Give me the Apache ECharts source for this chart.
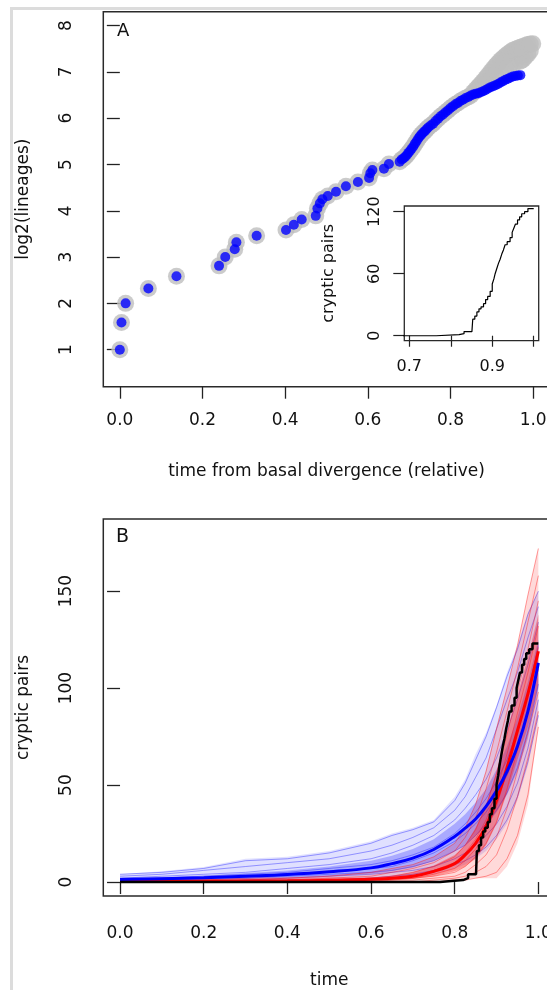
<!DOCTYPE html>
<html><head><meta charset="utf-8">
<script src="https://cdn.jsdelivr.net/npm/echarts@6/dist/echarts.min.js"></script>
<style>html,body{margin:0;padding:0;background:#fff;overflow:hidden}#c{width:600px;height:990px}</style>
</head><body><div id="c"></div>
<script>
// ---------- Panel A : lineage-through-time points ----------
const blueTime = [0.000,0.004,0.014,0.069,0.137,0.240,0.255,0.278,0.282,0.331,0.402,0.421,0.440,0.474,0.478,0.484,0.490,0.503,0.523,0.547,0.576,0.603,0.606,0.611,0.639,0.651,0.677,
0.682,0.686,0.690,0.694,0.698,0.702,0.706,0.710,0.714,0.718,0.722,0.726,0.730,0.734,0.738,0.742,0.746,
0.752,0.758,0.764,0.770,0.776,0.782,0.788,0.794,0.800,0.806,0.812,0.818,0.824,0.830,0.836,0.843,0.849,0.855,0.861,0.867,0.873,0.879,0.885,0.891,0.897,0.903,0.909,0.915,0.921,0.927,0.933,0.939,0.945,0.951,0.957,0.963,0.969];
const blueLog2 = [1.00,1.585,2.00,2.32,2.585,2.81,3.00,3.17,3.32,3.46,3.585,3.70,3.81,3.89,4.05,4.16,4.25,4.32,4.41,4.53,4.62,4.71,4.81,4.88,4.91,5.01,5.06,
5.11,5.13,5.16,5.20,5.25,5.29,5.34,5.39,5.45,5.50,5.56,5.61,5.65,5.69,5.72,5.76,5.80,
5.84,5.88,5.94,5.99,6.04,6.08,6.13,6.17,6.22,6.26,6.30,6.33,6.37,6.40,6.43,6.46,6.49,6.51,6.53,6.54,6.56,6.58,6.61,6.64,6.67,6.69,6.71,6.74,6.77,6.80,6.83,6.85,6.88,6.90,6.91,6.92,6.93];
// gray cloud (trees incl. cryptic lineages): shares blue early part, then spreads upward
const grayShareUntil = 0.85;
const grayUpperTime = [0.855,0.861,0.867,0.873,0.879,0.885,0.891,0.897,0.903,0.909,0.915,0.921,0.927,0.933,0.939,0.945,0.951,0.957,0.963,0.969,0.975,0.981,0.987,0.993,0.999];
const grayUpperLog2 = [6.56,6.62,6.68,6.74,6.80,6.86,6.93,7.00,7.07,7.13,7.19,7.25,7.30,7.35,7.39,7.43,7.47,7.49,7.51,7.53,7.55,7.57,7.59,7.60,7.61];
const grayMidTime = [0.861,0.873,0.885,0.897,0.909,0.921,0.933,0.945,0.957,0.969,0.975,0.981,0.987,0.993];
const grayMidLog2 = [6.58,6.65,6.74,6.84,6.92,7.01,7.09,7.16,7.20,7.23,7.26,7.32,7.38,7.45];
const aTicksX = [0,0.2,0.4,0.6,0.8,1.0];
const aTicksY = [1,2,3,4,5,6,7,8];

// ---------- observed cryptic pairs (inset + panel B black line) ----------
const obsTime  = [0,0.765,0.82,0.832,0.851,0.853,0.858,0.863,0.868,0.873,0.879,0.884,0.889,0.895,0.900,0.904,0.907,0.911,0.915,0.919,0.923,0.927,0.931,0.936,0.943,0.948,0.952,0.956,0.961,0.966,0.971,0.978,0.986,1.0];
const obsPairs = [0,1,2,4,5,16,19,23,26,28,31,35,38,43,50,55,60,65,70,74,79,83,88,91,95,100,104,108,112,115,118,120,123,123];
const insetTicksX = [0.7,0.8,0.9,1.0];
const insetLabelsX = [0.7,0.9];
const insetTicksY = [0,60,120];

// ---------- Panel B : simulations ----------
const simTime  = [0,0.1,0.2,0.3,0.4,0.5,0.6,0.65,0.7,0.75,0.8,0.825,0.85,0.875,0.9,0.925,0.95,0.975,1.0];
const blueMean = [1.3,1.7,2.2,3.0,3.9,5.3,7.3,9.5,12.3,16.8,23.5,27.8,32.5,39,47,57,70,88,113];
const redMean  = [0.3,0.35,0.4,0.5,0.6,0.9,1.4,2.0,3.0,5.5,9.5,14,20,29,42,59,78,97,119];
const blueHigh = [4,5.6,7.7,12,13,16,21,25,28,32,44,53,66,77,91,108,122,139,150];
const blueLow  = [0,0,0,0.5,0.5,1,1.5,2,3,4,7,9,12,16,22,30,42,60,85];
const blueQ3   = [2,2.6,3.4,4.6,6,8,11,13.5,17,22,30,35,41,48,58,70,85,103,125];
const blueQ1   = [0.5,0.8,1.1,1.6,2.2,3,4.3,5.5,7.5,11,16,19,24,29,36,45,57,74,100];
const redHigh  = [1,1,1.5,2,2.5,3.5,5,7,9,13,20,28,40,58,80,100,122,148,172];
const redLow   = [0,0,0,0,0,0,0,0,0,0.5,1,1.5,2,2,2,8,20,40,80];
const redQ3    = [0.5,0.6,0.7,0.9,1.1,1.6,2.4,3.3,5,8.5,14,19,28,40,57,77,96,116,138];
const redQ1    = [0,0.1,0.1,0.2,0.2,0.4,0.7,1,1.6,3,5.5,8,12,19,30,46,63,80,102];
const blueSims = [
 [4,5,7,11,12,15,20,24,27,31,42,51,63,75,90,106,120,138,150],
 [3,4,6,8,10,12,16,19,23,28,37,44,54,64,79,94,108,126,142],
 [2,3,4,5,7,9,12,15,19,24,32,38,45,53,64,78,94,112,134],
 [2,2,3,4,5,7,9,11,14,18,25,30,36,43,52,63,78,97,122],
 [1,2,2,3,4,5,7,8,11,15,21,25,30,36,44,55,69,88,112],
 [1,1,2,2,3,4,5,6,8,11,16,19,24,30,37,46,59,78,102],
 [0,1,1,1,2,3,4,5,6,8,12,15,19,24,30,39,51,69,94],
 [0,0,0,1,1,1,2,3,4,6,9,11,14,18,24,32,44,62,86]
];
const redSims = [
 [1,1,1,2,2,3,5,7,9,13,20,28,40,57,79,100,122,148,172],
 [1,1,1,1,2,2,3,5,7,10,16,23,33,48,67,88,110,134,158],
 [0,0,1,1,1,2,2,3,5,8,13,19,27,39,56,76,98,120,145],
 [0,0,0,1,1,1,2,2,3,6,10,15,22,32,47,66,87,108,132],
 [0,0,0,0,1,1,1,2,2,4,7,11,17,26,39,57,77,98,121],
 [0,0,0,0,0,1,1,1,2,3,5,8,13,20,31,48,68,88,110],
 [0,0,0,0,0,0,0,1,1,2,3,5,9,14,23,38,57,77,98],
 [0,0,0,0,0,0,0,0,0,1,2,3,5,8,14,27,44,64,88],
 [0,0,0,0,0,0,0,0,0,0,1,1,2,3,5,12,24,45,80]
];
const bTicksX = [0,0.2,0.4,0.6,0.8,1.0];
const bTicksY = [0,50,100,150];

// ---------- build ----------
const FONT = 'DejaVu Sans';
const INK = '#111';
const zip = (a, b) => a.map((v, i) => [v, b[i]]);

const bluePts = zip(blueTime, blueLog2);
const grayPts = bluePts.filter(p => p[0] <= grayShareUntil)
  .concat(zip(grayMidTime, grayMidLog2), zip(grayUpperTime, grayUpperLog2));

function xAxisCfg(grid, min, max, ticks, labels, opts) {
  return Object.assign({
    gridIndex: grid, type: 'value', min: min, max: max,
    axisLine: {show: false}, splitLine: {show: false},
    axisTick: {show: true, inside: false, length: 12, customValues: ticks, lineStyle: {color: '#222', width: 1.3}},
    axisLabel: {customValues: labels, formatter: v => v.toFixed(1), fontSize: 17, fontFamily: FONT, color: INK, margin: 25},
    nameLocation: 'middle', nameTextStyle: {fontSize: 17, fontFamily: FONT, color: INK}
  }, opts);
}
function yAxisCfg(grid, min, max, ticks, opts) {
  return Object.assign({
    gridIndex: grid, type: 'value', min: min, max: max,
    axisLine: {show: false}, splitLine: {show: false},
    axisTick: {show: true, inside: false, length: 13, customValues: ticks, lineStyle: {color: '#222', width: 1.3}},
    axisLabel: {customValues: ticks, rotate: 90, fontSize: 17, fontFamily: FONT, color: INK, margin: 28},
    nameLocation: 'middle', nameRotate: 90, nameTextStyle: {fontSize: 17, fontFamily: FONT, color: INK}
  }, opts);
}
function band(low, high, color, z) {
  return {
    type: 'custom', xAxisIndex: 2, yAxisIndex: 2, data: [0], silent: true, z: z,
    renderItem: (params, api) => {
      const pts = [];
      for (let i = 0; i < simTime.length; i++) pts.push(api.coord([simTime[i], high[i]]));
      for (let i = simTime.length - 1; i >= 0; i--) pts.push(api.coord([simTime[i], low[i]]));
      return {type: 'polygon', shape: {points: pts}, style: {fill: color}};
    }
  };
}
function simLine(vals, color, z) {
  return {type: 'line', xAxisIndex: 2, yAxisIndex: 2, data: zip(simTime, vals), symbol: 'none', silent: true, z: z,
    lineStyle: {color: color, width: 1}};
}

const gridStyle = {show: true, borderColor: '#2a2a2a', borderWidth: 1.5, backgroundColor: 'transparent'};

const series = [
  {type: 'scatter', xAxisIndex: 0, yAxisIndex: 0, data: grayPts, symbolSize: 17, itemStyle: {color: '#bebebe'}, z: 2, silent: true},
  {type: 'scatter', xAxisIndex: 0, yAxisIndex: 0, data: bluePts, symbolSize: 10, itemStyle: {color: '#0000ff'}, z: 3, silent: true},
  {type: 'line', xAxisIndex: 1, yAxisIndex: 1, data: zip(obsTime, obsPairs), step: 'end', symbol: 'none', lineStyle: {color: '#000', width: 1.2}, z: 3, silent: true},
  band(blueLow, blueHigh, 'rgba(0,0,255,0.12)', 1),
  band(blueQ1, blueQ3, 'rgba(0,0,255,0.24)', 1)
];
blueSims.forEach(s => series.push(simLine(s, 'rgba(30,30,255,0.42)', 2)));
series.push(band(redLow, redHigh, 'rgba(255,0,0,0.15)', 3));
series.push(band(redQ1, redQ3, 'rgba(255,0,0,0.32)', 3));
redSims.forEach(s => series.push(simLine(s, 'rgba(255,20,20,0.42)', 4)));
series.push({type: 'line', xAxisIndex: 2, yAxisIndex: 2, data: zip(simTime, redMean), smooth: 0.4, symbol: 'none', lineStyle: {color: '#ff0000', width: 3}, z: 5, silent: true});
series.push({type: 'line', xAxisIndex: 2, yAxisIndex: 2, data: zip(simTime, blueMean), smooth: 0.4, symbol: 'none', lineStyle: {color: '#0000ff', width: 3}, z: 6, silent: true});
series.push({type: 'line', xAxisIndex: 2, yAxisIndex: 2, data: zip(obsTime, obsPairs), step: 'end', symbol: 'none', lineStyle: {color: '#000', width: 2.5}, z: 7, silent: true});

const option = {
  animation: false,
  backgroundColor: '#fff',
  textStyle: {fontFamily: FONT},
  grid: [
    Object.assign({left: 103.3, top: 11.7, width: 446.4, height: 375}, gridStyle),
    Object.assign({left: 404.3, top: 206, width: 134.4, height: 134.7}, gridStyle, {borderWidth: 1.3}),
    Object.assign({left: 103.3, top: 519, width: 451.8, height: 379.3}, gridStyle)
  ],
  xAxis: [
    xAxisCfg(0, -0.04, 1.04, aTicksX, aTicksX, {name: 'time from basal divergence (relative)', nameGap: 76}),
    xAxisCfg(1, 0.688, 1.012, insetTicksX, insetLabelsX, {axisTick: {show: true, length: 11, customValues: insetTicksX, lineStyle: {color: '#222', width: 1.2}},
      axisLabel: {customValues: insetLabelsX, formatter: v => v.toFixed(1), fontSize: 16, fontFamily: FONT, color: INK, margin: 18}}),
    xAxisCfg(2, -0.04, 1.04, bTicksX, bTicksX, {name: 'time', nameGap: 76, axisLabel: {customValues: bTicksX, formatter: v => v.toFixed(1), fontSize: 17, fontFamily: FONT, color: INK, margin: 29}})
  ],
  yAxis: [
    yAxisCfg(0, 0.2, 8.3, aTicksY, {name: 'log2(lineages)', nameGap: 71}),
    yAxisCfg(1, -4.8, 125.5, insetTicksY, {name: 'cryptic pairs', nameGap: 67, nameTextStyle: {fontSize: 16, fontFamily: FONT, color: INK},
      axisTick: {show: true, length: 11, customValues: insetTicksY, lineStyle: {color: '#222', width: 1.2}},
      axisLabel: {customValues: insetTicksY, rotate: 90, fontSize: 16, fontFamily: FONT, color: INK, margin: 21}}),
    yAxisCfg(2, -7.2, 187.2, bTicksY, {name: 'cryptic pairs', nameGap: 71})
  ],
  graphic: [
    {type: 'line', shape: {x1: 11.5, y1: 8.5, x2: 11.5, y2: 990}, style: {stroke: '#dcdcdc', lineWidth: 3}, silent: true},
    {type: 'line', shape: {x1: 10, y1: 8.5, x2: 600, y2: 8.5}, style: {stroke: '#dcdcdc', lineWidth: 3}, silent: true},
    {type: 'text', left: 117, top: 22, style: {text: 'A', font: '18px "DejaVu Sans"', fill: INK}, silent: true},
    {type: 'text', left: 116, top: 528, style: {text: 'B', font: '19px "DejaVu Sans"', fill: INK}, silent: true}
  ],
  series: series
};
const chart = echarts.init(document.getElementById('c'), null, {renderer: 'canvas'});
chart.setOption(option);
</script>
</body></html>
